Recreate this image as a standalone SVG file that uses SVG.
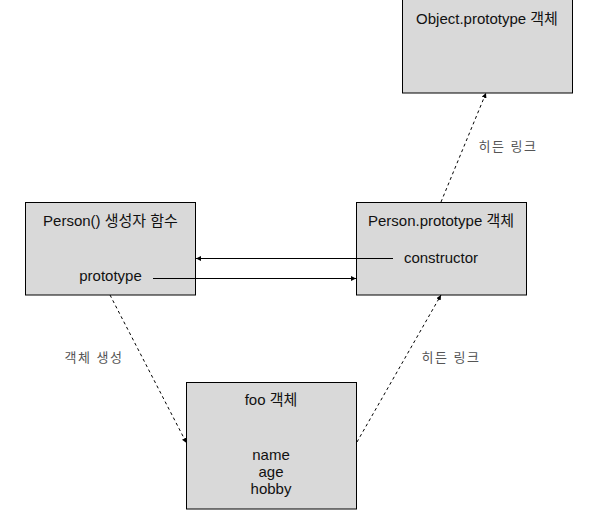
<svg xmlns="http://www.w3.org/2000/svg" width="601" height="510" viewBox="0 0 601 510">
<style>
.box{fill:#d9d9d9;stroke:#000;stroke-width:1}
.t{font-family:"Liberation Sans","Noto Sans CJK KR",sans-serif;font-size:15px;fill:#111;text-anchor:middle}
.lbl{font-family:"Liberation Sans","Noto Sans CJK KR",sans-serif;font-size:13px;letter-spacing:1.5px;fill:#555;text-anchor:middle}
.ln{stroke:#000;stroke-width:1;fill:none}
.dash{stroke-dasharray:3,3}
</style>
<defs>
<marker id="ah" viewBox="0 0 10 10" refX="10" refY="5" markerWidth="5" markerHeight="5" orient="auto" markerUnits="userSpaceOnUse">
<path d="M0,0 L10,5 L0,10 z" fill="#000"/>
</marker>
</defs>
<rect width="601" height="510" fill="#fff"/>
<g id="object-prototype">
<rect class="box" x="402.5" y="-0.5" width="170" height="93.5"/>
<text class="t" x="487" y="24">Object.prototype 객체</text>
</g>
<g id="person">
<rect class="box" x="25.5" y="202.5" width="170" height="92.5"/>
<text class="t" x="110.5" y="226">Person() 생성자 함수</text>
<text class="t" x="110.5" y="281">prototype</text>
</g>
<g id="person-prototype">
<rect class="box" x="356.5" y="202.5" width="170" height="92.5"/>
<text class="t" x="441" y="226">Person.prototype 객체</text>
<text class="t" x="441" y="263">constructor</text>
</g>
<g id="foo">
<rect class="box" x="186.5" y="382.5" width="170" height="126.5"/>
<text class="t" x="271" y="405">foo 객체</text>
<text class="t" x="271" y="460">name</text>
<text class="t" x="271" y="477">age</text>
<text class="t" x="271" y="494">hobby</text>
</g>
<g id="connectors">
<line class="ln" x1="393" y1="258.5" x2="196" y2="258.5" marker-end="url(#ah)"/>
<line class="ln" x1="153" y1="278.5" x2="356" y2="278.5" marker-end="url(#ah)"/>
<line class="ln dash" x1="110" y1="295" x2="186.5" y2="443" marker-end="url(#ah)"/>
<line class="ln dash" x1="357" y1="442" x2="441" y2="295" marker-end="url(#ah)"/>
<line class="ln dash" x1="441" y1="202" x2="486" y2="93" marker-end="url(#ah)"/>
<text class="lbl" x="94" y="362">객체 생성</text>
<text class="lbl" x="451" y="362">히든 링크</text>
<text class="lbl" x="508" y="151">히든 링크</text>
</g>
</svg>
